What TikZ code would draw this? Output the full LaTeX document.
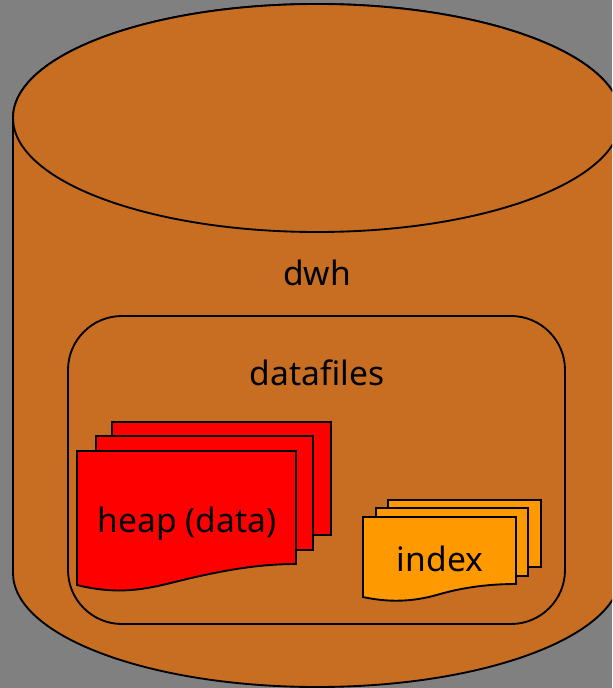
\documentclass[tikz,border=0pt]{standalone}
\usepackage{fontspec}
\setmainfont{Noto Sans}
\definecolor{bgc}{HTML}{808080}
\definecolor{cyl}{HTML}{C76E23}
\definecolor{idx}{HTML}{FF9900}
\tikzset{
  px/.style={x=0.75pt,y=-0.75pt},
  shapeline/.style={draw=black,line width=1.4pt,line join=miter},
  lbl/.style={font=\fontsize{25.2pt}{28pt}\selectfont,text=black,inner sep=0pt,anchor=base}
}
\begin{document}
\begin{tikzpicture}[px]
\useasboundingbox (0,0) rectangle (612,688);
\fill[bgc] (0,0) rectangle (612,688);
\path[clip] (0,0) rectangle (612,688);
% cylinder
\path[shapeline,fill=cyl] (13,118) -- (13,573)
  arc[start angle=180,end angle=360,x radius=304,y radius=-114] -- (621,118)
  arc[start angle=0,end angle=180,x radius=304,y radius=-114] -- cycle;
\path[shapeline,fill=cyl] (317,118) ellipse[x radius=304,y radius=114];
\node[lbl] (dwh) at (317,285) {dwh};
% datafiles
\draw[shapeline,rounded corners=40.5pt] (68,316) rectangle (565,624);
\node[lbl] (datafiles) at (317,385) {datafiles};
% heap
\path[shapeline,fill=red] (112,422) -- (331,422) -- (331,535) -- (112,535) -- cycle;
\path[shapeline,fill=red] (96,436) -- (313,436) -- (313,550) -- (96,550) -- cycle;
\path[shapeline,fill=red] (77,451) -- (296,451) -- (296,564)
  .. controls (260,564) and (225,570) .. (187,579)
  .. controls (155,586.6) and (125,597) .. (77,585) -- cycle;
\node[lbl] (heap) at (187,532) {heap (data)};
% index
\path[shapeline,fill=idx] (388,500) -- (541,500) -- (541,567) -- (388,567) -- cycle;
\path[shapeline,fill=idx] (376,508) -- (528,508) -- (528,576) -- (376,576) -- cycle;
\path[shapeline,fill=idx] (363,517) -- (516,517) -- (516,584)
  .. controls (490,584) and (465,587) .. (440,594)
  .. controls (420,600) and (395,604) .. (363,597) -- cycle;
\node[lbl] (index) at (440,571) {index};
\end{tikzpicture}
\end{document}
